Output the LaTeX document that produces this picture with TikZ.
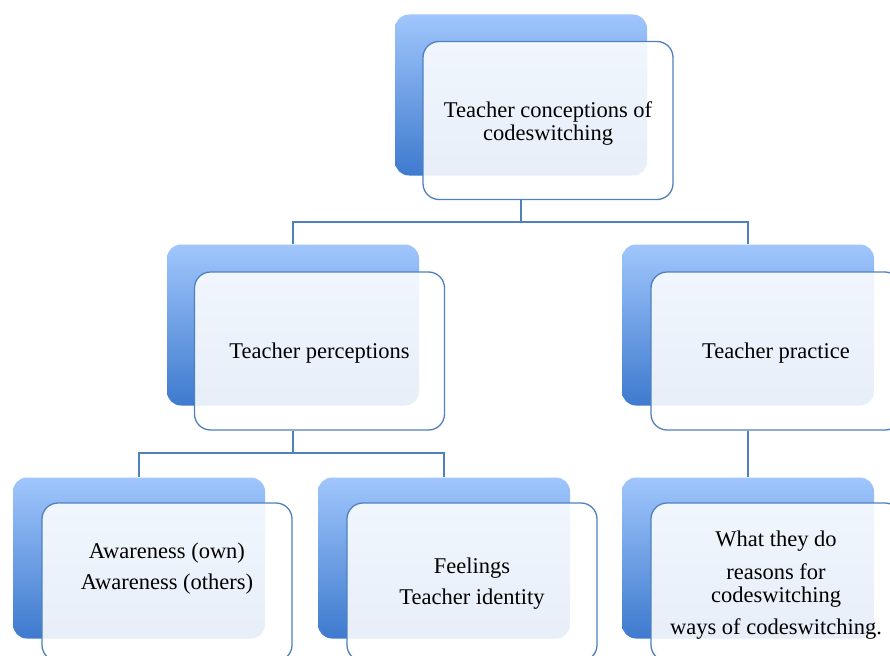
\documentclass[tikz,border=0pt]{standalone}
\usepackage{fontspec}
\setmainfont{Liberation Serif}
\definecolor{shTop}{RGB}{160,198,252}
\definecolor{shBot}{RGB}{62,122,206}
\definecolor{edge}{RGB}{79,129,189}
\tikzset{
  shadowbox/.style={rectangle, rounded corners=14pt, minimum width=252pt, minimum height=161pt,
    top color=shTop, bottom color=shBot, draw=none, inner sep=0pt},
  frontbox/.style={rectangle, rounded corners=16pt, minimum width=250pt, minimum height=158pt,
    draw=edge, line width=1.3pt, fill=white, fill opacity=0.88, inner sep=0pt},
  lbl/.style={align=center, font=\fontsize{22.5}{23}\selectfont, inner sep=0pt},
  conn/.style={draw=edge, line width=1.8pt}
}
\begin{document}
\begin{tikzpicture}[x=1pt,y=-1pt]
\useasboundingbox (0,0) rectangle (890,655);
\clip (0,0) rectangle (890,655);
\fill[white] (0,0) rectangle (890,655);
% junction coordinates
\coordinate (j1) at (521,222);
\coordinate (j2) at (293,453);
% shadows
\node[shadowbox] (s1) at (521,95) {};
\node[shadowbox] (s2) at (293,325) {};
\node[shadowbox] (s3) at (748,325) {};
\node[shadowbox] (s4) at (139,558) {};
\node[shadowbox] (s5) at (444,558) {};
\node[shadowbox] (s6) at (748,558) {};
% fronts
\node[frontbox] (f1) at (548,120.5) {};
\node[frontbox] (f2) at (319.5,351) {};
\node[frontbox] (f3) at (776,351) {};
\node[frontbox] (f4) at (167,582) {};
\node[frontbox] (f5) at (472,582) {};
\node[frontbox] (f6) at (776,582) {};
% connectors
\draw[conn] (s1.south |- f1.south) -- (j1);
\draw[conn] (s2.north) |- (j1) -| (s3.north);
\draw[conn] (s2.south |- f2.south) -- (j2);
\draw[conn] (s4.north) |- (j2) -| (s5.north);
\draw[conn] (s3.south |- f3.south) -- (s6.north);
% texts
\node[lbl] (t1) at (548,123.5) {Teacher conceptions of\\codeswitching};
\node[lbl] (t2) at (319.5,353.5) {Teacher perceptions};
\node[lbl] (t3) at (776,353.5) {Teacher practice};
\node[lbl] (t4) at (167,569) {Awareness (own)\\[8pt]Awareness (others)};
\node[lbl] (t5) at (472,584) {Feelings\\[8pt]Teacher identity};
\node[lbl] (t6) at (776,585) {What they do\\[10pt]reasons for\\codeswitching\\[9pt]ways of codeswitching.};
\end{tikzpicture}
\end{document}
